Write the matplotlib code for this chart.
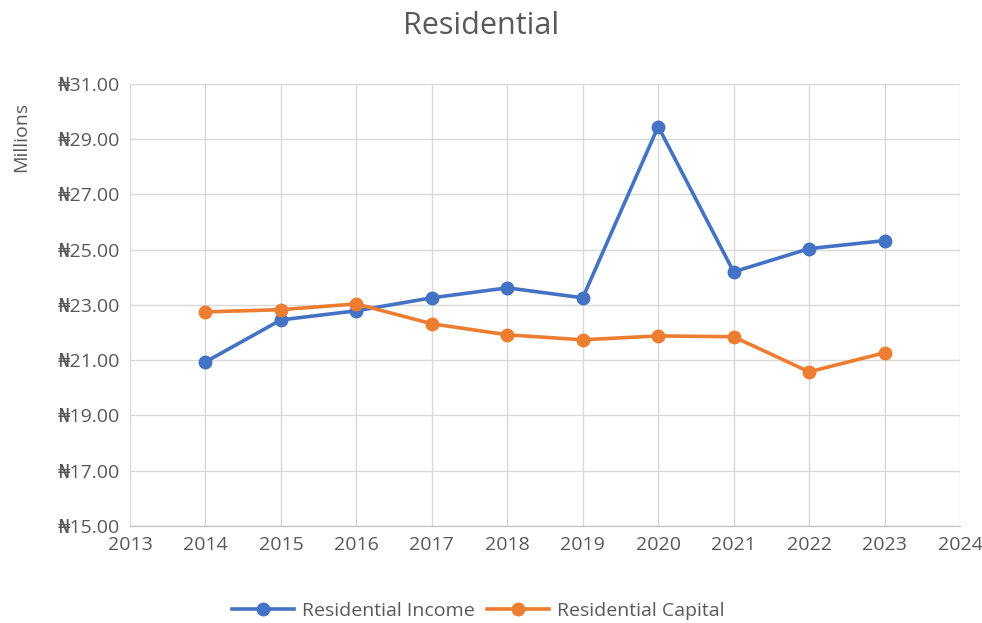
import matplotlib.pyplot as plt
from matplotlib.ticker import FuncFormatter, MultipleLocator, FixedLocator

plt.rcParams['font.family'] = ['Open Sans', 'DejaVu Sans']

years = [2014, 2015, 2016, 2017, 2018, 2019, 2020, 2021, 2022, 2023]
income = [20.94, 22.46, 22.79, 23.26, 23.62, 23.26, 29.46, 24.20, 25.04, 25.33]
capital = [22.75, 22.83, 23.04, 22.32, 21.92, 21.74, 21.88, 21.85, 20.58, 21.27]
y_ticks = [15, 17, 19, 21, 23, 25, 27, 29, 31]

text_grey = '#595959'

fig = plt.figure(figsize=(9.82, 6.23), dpi=100)
ax = fig.add_axes([0.1324, 0.1557, 0.8452, 0.7095])

ax.plot(years, income, color='#4472C4', lw=2.6, marker='o', ms=9,
        label='Residential Income', zorder=3)
ax.plot(years, capital, color='#ED7D31', lw=2.6, marker='o', ms=9,
        label='Residential Capital', zorder=3)

ax.set_xlim(2013, 2024)
ax.set_ylim(15, 31)
ax.xaxis.set_major_locator(MultipleLocator(1))
ax.yaxis.set_major_locator(FixedLocator(y_ticks))
ax.yaxis.set_major_formatter(FuncFormatter(lambda v, p: '\u20a6%.2f' % v))

ax.grid(True, color='#d9d9d9', lw=1)
ax.set_axisbelow(True)
for s in ['top', 'right', 'left']:
    ax.spines[s].set_visible(False)
ax.spines['bottom'].set_color('#bfbfbf')
ax.tick_params(length=0, labelsize=14, colors=text_grey, pad=7)

fig.text(0.49, 0.958, 'Residential', fontsize=22, color=text_grey,
         ha='center', va='center')
fig.text(0.022, 0.78, 'Millions', rotation=90, fontsize=14,
         color=text_grey, ha='center', va='center')

fig.legend(loc='center', bbox_to_anchor=(0.487, 0.02), ncol=2, frameon=False,
           fontsize=14, labelcolor=text_grey, handlelength=3.2,
           columnspacing=0.6, handletextpad=0.4)

fig.savefig('out.png', dpi=100)
